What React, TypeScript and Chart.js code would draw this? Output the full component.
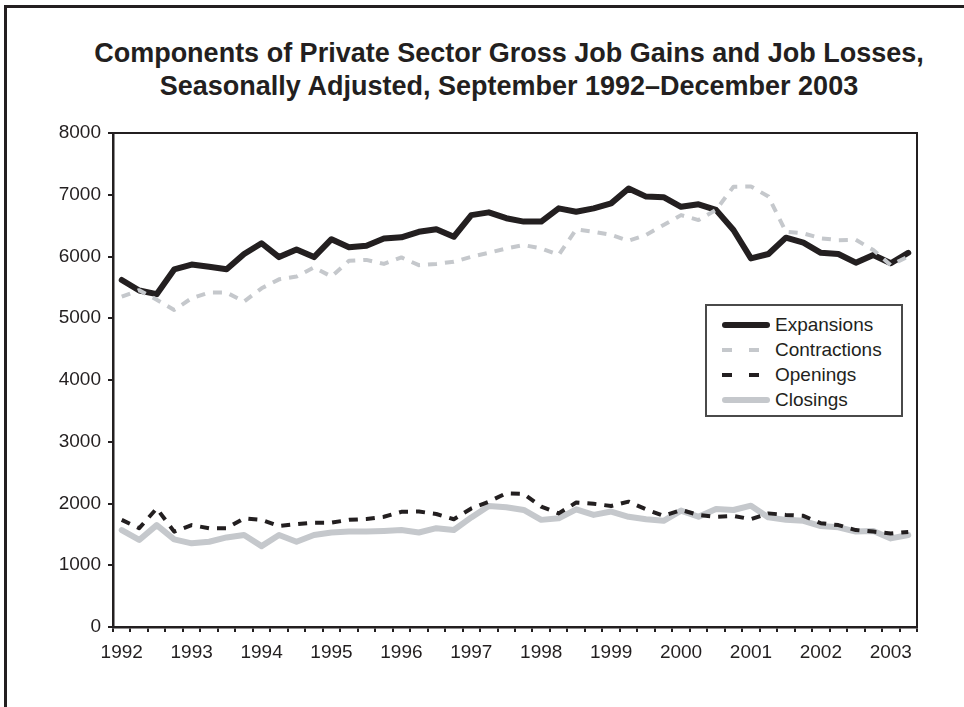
import React, { useEffect, useRef } from "react";
import { Chart, registerables } from "chart.js";

Chart.register(...registerables);

const quarters = [
  "Sep 1992", "Dec 1992",
  "Mar 1993", "Jun 1993", "Sep 1993", "Dec 1993",
  "Mar 1994", "Jun 1994", "Sep 1994", "Dec 1994",
  "Mar 1995", "Jun 1995", "Sep 1995", "Dec 1995",
  "Mar 1996", "Jun 1996", "Sep 1996", "Dec 1996",
  "Mar 1997", "Jun 1997", "Sep 1997", "Dec 1997",
  "Mar 1998", "Jun 1998", "Sep 1998", "Dec 1998",
  "Mar 1999", "Jun 1999", "Sep 1999", "Dec 1999",
  "Mar 2000", "Jun 2000", "Sep 2000", "Dec 2000",
  "Mar 2001", "Jun 2001", "Sep 2001", "Dec 2001",
  "Mar 2002", "Jun 2002", "Sep 2002", "Dec 2002",
  "Mar 2003", "Jun 2003", "Sep 2003", "Dec 2003",
];

const expansions = [
  5620, 5450, 5390, 5790, 5870, 5835, 5795, 6040, 6215, 5990, 6115, 5990,
  6280, 6150, 6175, 6290, 6310, 6400, 6440, 6320, 6670, 6715, 6620, 6565,
  6565, 6780, 6725, 6780, 6860, 7100, 6970, 6960, 6805, 6845, 6755, 6430,
  5970, 6040, 6305, 6225, 6060, 6040, 5900, 6025, 5890, 6060,
];

const contractions = [
  5350, 5455, 5300, 5135, 5325, 5415, 5415, 5270, 5485, 5630, 5675, 5825,
  5675, 5930, 5945, 5880, 5985, 5860, 5880, 5915, 5995, 6060, 6130, 6185,
  6130, 6025, 6440, 6400, 6350, 6255, 6350, 6510, 6670, 6590, 6755, 7130,
  7135, 6970, 6400, 6375, 6295, 6265, 6270, 6105, 5860, 6000,
];

const openings = [
  1735, 1600, 1920, 1545, 1650, 1600, 1600, 1760, 1735, 1635, 1665, 1690,
  1690, 1735, 1750, 1785, 1865, 1870, 1830, 1745, 1920, 2030, 2165, 2155,
  1950, 1840, 2015, 1995, 1960, 2030, 1905, 1800, 1895, 1815, 1785, 1800,
  1745, 1840, 1815, 1800, 1680, 1650, 1570, 1545, 1515, 1540,
];

const closings = [
  1570, 1410, 1650, 1420, 1355, 1380, 1450, 1490, 1310, 1490, 1380, 1490,
  1530, 1545, 1545, 1555, 1570, 1530, 1600, 1570, 1775, 1960, 1940, 1895,
  1735, 1760, 1905, 1815, 1870, 1785, 1745, 1720, 1885, 1785, 1910, 1895,
  1965, 1775, 1735, 1720, 1635, 1615, 1545, 1555, 1435, 1490,
];

const titleLines = [
  "Components of Private Sector Gross Job Gains and Job Losses,",
  "Seasonally Adjusted, September 1992\u2013December 2003",
];

const INK = "#231f20";
const GRAY = "#c5c8cc";
const FONT = "'Liberation Sans', Arial, Helvetica, sans-serif";

const series = [
  { label: "Expansions", data: expansions, color: INK, width: 6, dash: [] as number[], order: 4 },
  { label: "Contractions", data: contractions, color: GRAY, width: 4, dash: [9, 8], order: 3 },
  { label: "Openings", data: openings, color: INK, width: 4, dash: [9, 8], order: 1 },
  { label: "Closings", data: closings, color: GRAY, width: 6, dash: [] as number[], order: 2 },
];

const plotFrame = {
  id: "plotFrame",
  afterDatasetsDraw(chart: any) {
    const { ctx, chartArea: a } = chart;
    ctx.save();
    ctx.strokeStyle = INK;
    ctx.lineWidth = 2;
    ctx.beginPath();
    ctx.moveTo(a.left, a.top);
    ctx.lineTo(a.right, a.top);
    ctx.lineTo(a.right, a.bottom);
    ctx.stroke();
    ctx.restore();
  },
};

export default function App() {
  const canvasRef = useRef<HTMLCanvasElement | null>(null);

  useEffect(() => {
    if (!canvasRef.current) return;
    const chart = new Chart(canvasRef.current, {
      type: "line",
      data: {
        labels: quarters,
        datasets: series.map((s) => ({
          label: s.label,
          data: s.data,
          borderColor: s.color,
          backgroundColor: s.color,
          borderWidth: s.width,
          borderDash: s.dash,
          borderCapStyle: s.dash.length ? "butt" : "round",
          borderJoinStyle: "round",
          pointRadius: 0,
          tension: 0,
          fill: false,
          order: s.order,
        })),
      },
      options: {
        animation: false,
        responsive: false,
        events: [],
        layout: { padding: { left: 53, right: 47, top: 133, bottom: 30 } },
        plugins: {
          legend: { display: false },
          title: { display: false },
          tooltip: { enabled: false },
        },
        scales: {
          x: {
            type: "category",
            offset: true,
            grid: {
              offset: true,
              drawOnChartArea: false,
              drawTicks: true,
              tickLength: 5,
              color: INK,
              lineWidth: 2,
            },
            border: { display: true, color: INK, width: 2.5 },
            ticks: {
              autoSkip: false,
              maxRotation: 0,
              minRotation: 0,
              color: INK,
              padding: 9,
              font: { family: FONT, size: 19 },
              callback: (_v: any, i: number) =>
                quarters[i].startsWith("Sep") ? quarters[i].slice(4) : "",
            },
            afterFit: (s: any) => {
              s.height = 50;
            },
          },
          y: {
            min: 0,
            max: 8000,
            ticks: {
              stepSize: 1000,
              color: INK,
              padding: 7,
              font: { family: FONT, size: 19 },
              callback: (v: any) => String(v),
            },
            grid: {
              drawOnChartArea: false,
              drawTicks: true,
              tickLength: 5,
              color: INK,
              lineWidth: 2,
            },
            border: { display: true, color: INK, width: 2.5 },
            afterFit: (s: any) => {
              s.width = 60;
            },
          },
        },
      },
      plugins: [plotFrame],
    } as any);
    return () => chart.destroy();
  }, []);

  return (
    <div
      style={{
        position: "absolute",
        left: 0,
        top: 0,
        width: 964,
        height: 707,
        background: "#fff",
        overflow: "hidden",
        fontFamily: FONT,
        color: INK,
      }}
    >
      <div
        style={{
          position: "absolute",
          left: 4,
          top: 5,
          width: 960,
          height: 702,
          boxSizing: "border-box",
          borderLeft: `3px solid ${INK}`,
          borderTop: `3px solid ${INK}`,
        }}
      />
      {titleLines.map((t, i) => (
        <div
          key={t}
          style={{
            position: "absolute",
            left: 54,
            width: 910,
            top: 37 + i * 33,
            fontSize: 27,
            lineHeight: "33px",
            fontWeight: "bold",
            textAlign: "center",
            whiteSpace: "nowrap",
          }}
        >
          {t}
        </div>
      ))}
      <canvas
        ref={canvasRef}
        width={964}
        height={707}
        style={{ position: "absolute", left: 0, top: 0, width: 964, height: 707 }}
      />
      <div
        style={{
          position: "absolute",
          left: 705,
          top: 304,
          width: 198,
          height: 113,
          boxSizing: "border-box",
          border: "2px solid #4a4a4a",
          background: "#fff",
          paddingTop: 6,
        }}
      >
        {series.map((s) => (
          <div
            key={s.label}
            style={{
              display: "flex",
              alignItems: "center",
              height: 25,
              fontSize: 19,
              lineHeight: "25px",
              whiteSpace: "nowrap",
            }}
          >
            <svg width={48} height={10} style={{ marginLeft: 15, marginRight: 5, flex: "none" }}>
              {s.dash.length ? (
                <line
                  x1={0}
                  y1={5}
                  x2={48}
                  y2={5}
                  stroke={s.color}
                  strokeWidth={s.width}
                  strokeDasharray="10 17"
                />
              ) : (
                <line
                  x1={3}
                  y1={5}
                  x2={45}
                  y2={5}
                  stroke={s.color}
                  strokeWidth={s.width}
                  strokeLinecap="round"
                />
              )}
            </svg>
            <span>{s.label}</span>
          </div>
        ))}
      </div>
    </div>
  );
}
